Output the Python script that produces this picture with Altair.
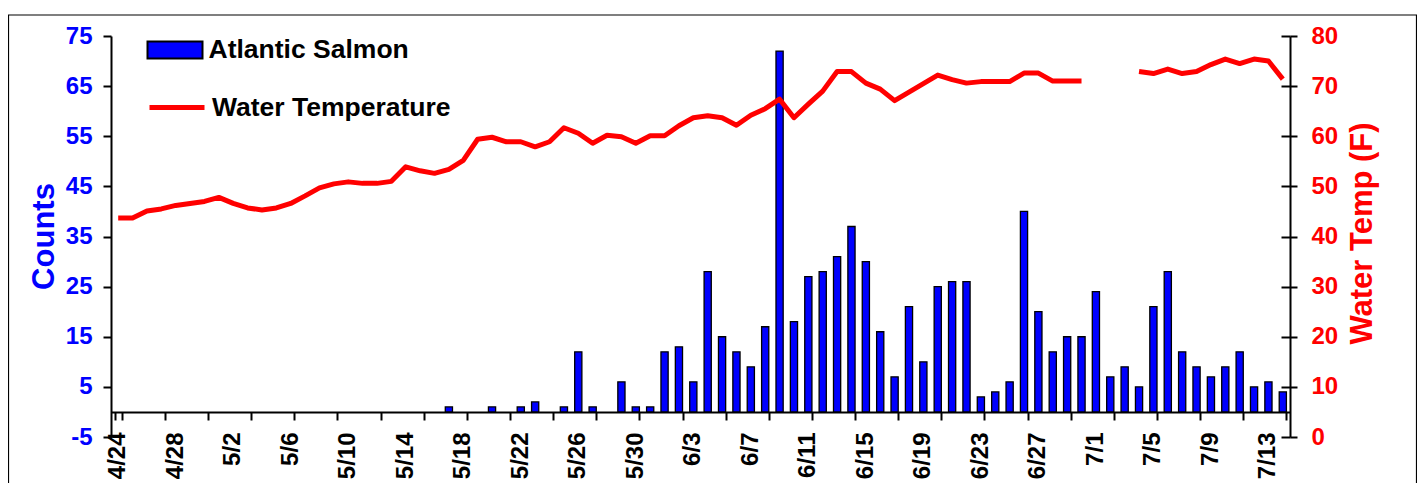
import altair as alt
import pandas as pd

# ---- data ----
dates = [f"{d.month}/{d.day}" for d in pd.date_range("2023-04-24", "2023-07-14")]

counts = [0, 0, 0, 0, 0, 0, 0, 0, 0, 0,
          0, 0, 0, 0, 0, 0, 0, 0, 0, 0,
          0, 0, 0, 1, 0, 0, 1, 0, 1, 2,
          0, 1, 12, 1, 0, 6, 1, 1, 12, 13,
          6, 28, 15, 12, 9, 17, 72, 18, 27, 28,
          31, 37, 30, 16, 7, 21, 10, 25, 26, 26,
          3, 4, 6, 40, 20, 12, 15, 15, 24, 7,
          9, 5, 21, 28, 12, 9, 7, 9, 12, 5,
          6, 4]

temps = [43.7, 43.7, 45.1, 45.5, 46.2, 46.6, 47.0, 47.8, 46.6, 45.7,
         45.3, 45.7, 46.6, 48.1, 49.7, 50.5, 50.9, 50.6, 50.6, 51.0,
         53.9, 53.1, 52.6, 53.4, 55.2, 59.4, 59.8, 58.9, 58.9, 57.9,
         58.9, 61.7, 60.6, 58.6, 60.2, 59.9, 58.6, 60.1, 60.1, 62.1,
         63.7, 64.1, 63.7, 62.2, 64.2, 65.5, 67.4, 63.7, 66.4, 69.0,
         72.9, 72.9, 70.6, 69.4, 67.1, 68.8, 70.5, 72.2, 71.3, 70.6,
         70.9, 70.9, 70.9, 72.6, 72.6, 71.0, 71.0, 71.0, None, None,
         None, 72.9, 72.5, 73.4, 72.5, 72.9, 74.3, 75.4, 74.5, 75.4,
         75.0, 71.4]

count_ticks = [-5, 5, 15, 25, 35, 45, 55, 65, 75]
temp_ticks = [0, 10, 20, 30, 40, 50, 60, 70, 80]
label_dates = dates[::4]
tick_dates = dates[::3]

BLUE = "#0000FF"
RED = "#FF0000"
FONT = "Liberation Sans"

df = pd.DataFrame({
    "date": dates,
    "idx": list(range(len(dates))),
    "count": counts,
    "temp": temps,
    "sal": ["Atlantic Salmon"] * len(dates),
    "wt": ["Water Temperature"] * len(dates),
})
df["seg"] = ["a" if i < 68 else "b" for i in df["idx"]]
line_df = df.dropna(subset=["temp"]).copy()

xscale = alt.Scale(domain=dates, paddingInner=0.5, paddingOuter=0.25)

frame = alt.Chart(pd.DataFrame({"k": [0]})).mark_rect(
    filled=False, stroke="black", strokeWidth=1.2
).encode(
    x=alt.value(-102.5), x2=alt.value(1305.5), y=alt.value(-21), y2=alt.value(490)
)

bars = alt.Chart(df).transform_filter("datum.count > 0").mark_bar(
    stroke="black", strokeWidth=1.3
).encode(
    x=alt.X("date:O", sort=dates, scale=xscale, title=None,
            axis=alt.Axis(values=tick_dates, orient="bottom", tickBand="extent", labels=False,
                          tickSize=8, tickWidth=2, tickColor="black",
                          domainColor="black", domainWidth=2, offset=-25, grid=False)),
    y=alt.Y("count:Q", scale=alt.Scale(domain=[-5, 75], nice=False, zero=False),
            axis=alt.Axis(values=count_ticks, orient="left", title="Counts",
                          labelExpr="'' + datum.value",
                          titleColor=BLUE, titleFontSize=31, titleFontWeight="bold",
                          titleAngle=270, titleBaseline="alphabetic", titleX=-58, titleY=200,
                          labelColor=BLUE, labelFontSize=24, labelFontWeight="bold",
                          labelPadding=11, tickSize=8, tickWidth=2, tickColor="black",
                          domainColor="black", domainWidth=2, grid=False)),
    color=alt.Color("sal:N", scale=alt.Scale(domain=["Atlantic Salmon"], range=[BLUE]),
                    legend=alt.Legend(orient="none", legendX=35.5, legendY=-14.5, title=None,
                                      symbolType="M-1,-0.31H1V0.31H-1Z", symbolSize=3025,
                                      symbolStrokeColor="black", symbolStrokeWidth=2,
                                      labelFontSize=26.5, labelFontWeight="bold",
                                      labelColor="black", labelOffset=5, labelFont=FONT,
                                      labelLimit=500)),
)

line = alt.Chart(line_df).mark_line(strokeWidth=5, strokeJoin="round").encode(
    x=alt.X("date:O", sort=dates, scale=xscale, title=None,
            axis=alt.Axis(values=label_dates, orient="bottom", ticks=False, tickSize=0,
                          domain=False, labelAngle=270, labelFontSize=24,
                          labelFontWeight="bold", labelColor="black", labelPadding=20,
                          offset=-25, grid=False)),
    y=alt.Y("temp:Q", scale=alt.Scale(domain=[0, 80], nice=False),
            axis=alt.Axis(values=temp_ticks, orient="right", title="Water Temp (F)",
                          titleColor=RED, titleFontSize=31, titleFontWeight="bold",
                          titleAngle=270, titleBaseline="alphabetic", titleX=81.5, titleY=197,
                          labelColor=RED, labelFontSize=24, labelFontWeight="bold",
                          labelPadding=14, tickSize=7, tickWidth=2, tickColor="black",
                          domainColor="black", domainWidth=2, grid=False)),
    detail="seg:N",
    order="idx:Q",
    stroke=alt.Stroke("wt:N", scale=alt.Scale(domain=["Water Temperature"], range=[RED]),
                      legend=alt.Legend(orient="none", legendX=36, legendY=41.5, title=None,
                                        symbolType="stroke", symbolSize=3025,
                                        symbolStrokeWidth=5, labelFontSize=26.5,
                                        labelFontWeight="bold", labelColor="black",
                                        labelOffset=5, labelFont=FONT, labelLimit=500)),
)

inner_ticks = alt.Chart(line_df).mark_point(opacity=0).encode(
    y=alt.Y("temp:Q", scale=alt.Scale(domain=[0, 80], nice=False),
            axis=alt.Axis(values=temp_ticks, orient="right", title=None, labels=False,
                          domain=False, tickSize=9, tickWidth=2, tickColor="black",
                          offset=-9, grid=False)),
)

chart = alt.layer(frame, bars, line, inner_ticks).resolve_scale(
    y="independent"
).resolve_axis(
    x="independent", y="independent"
).resolve_legend(
    color="independent", stroke="independent"
).properties(
    width=1179, height=401,
    autosize=alt.AutoSizeParams(type="none"),
    padding={"left": 103, "top": 28, "right": 127, "bottom": 46},
).configure(
    font=FONT
).configure_view(
    strokeWidth=0
)

chart.save("out.html", embed_options={"renderer": "svg", "actions": False})
